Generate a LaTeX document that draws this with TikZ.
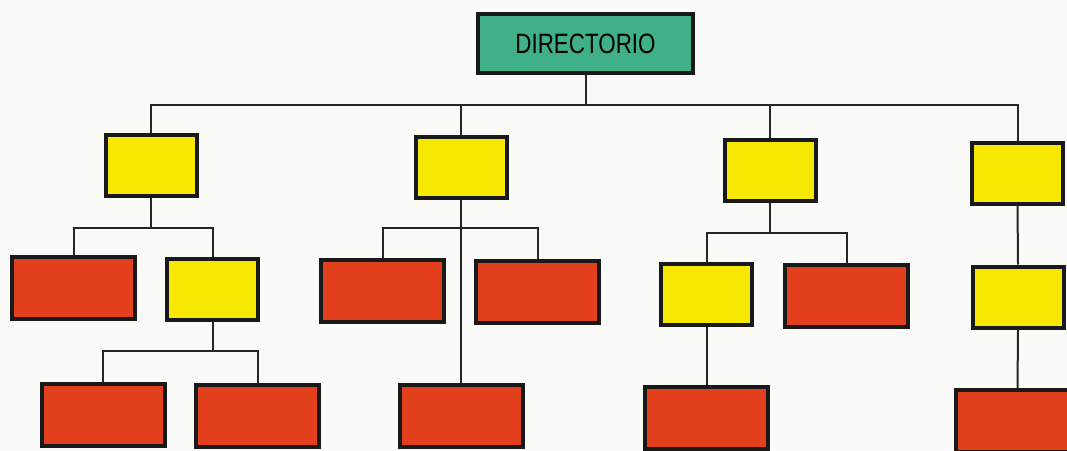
\documentclass[tikz,border=0pt]{standalone}
\usepackage{fontspec}
\newfontfamily\dirfont{Liberation Sans}[FakeStretch=0.8]
\usetikzlibrary{calc}
\definecolor{paper}{RGB}{250,250,248}
\definecolor{dirgreen}{RGB}{64,176,136}
\definecolor{jefeyellow}{RGB}{246,232,0}
\definecolor{unidadred}{RGB}{226,64,28}
\begin{document}
\begin{tikzpicture}[x=1pt,y=-1pt,
    box/.style={draw=black!90, line width=4pt, inner sep=0pt},
    jefe/.style={box, fill=jefeyellow, minimum width=91pt, minimum height=61pt},
    unidad/.style={box, fill=unidadred, minimum width=123pt, minimum height=62pt},
    link/.style={line width=2pt, black!85}]
\useasboundingbox (0,0) rectangle (1067,450);
\fill[paper] (0,0) rectangle (1067,450);

% top
\node[box, fill=dirgreen, minimum width=215pt, minimum height=59pt,
      font=\dirfont\fontsize{28}{30}\selectfont] (dir) at (585.5,43.5) {DIRECTORIO};

% first level
\node[jefe] (j1) at (151,165)    {};
\node[jefe] (j2) at (461,167.5)  {};
\node[jefe] (j3) at (770,170.5)  {};
\node[jefe] (j4) at (1017.5,173) {};

% second level
\node[unidad] (r1) at (73.5,288)   {};
\node[jefe]   (y1) at (212.5,289.5) {};
\node[unidad] (r2) at (382.5,290.5) {};
\node[unidad] (r3) at (537.5,292)   {};
\node[jefe]   (y2) at (706.5,294.5) {};
\node[unidad] (r4) at (846.5,295.5) {};
\node[jefe]   (y3) at (1018,297)    {};

% third level
\node[unidad] (r5) at (103,415)   {};
\node[unidad] (r6) at (257.5,415.5) {};
\node[unidad] (r7) at (461,415.5) {};
\node[unidad] (r8) at (706.5,418) {};
\node[unidad] (r9) at (1017.5,421) {};

% connectors
\draw[link] (dir.south) -- ++(0,30) coordinate (bus);
\draw[link] (j1.north) |- (bus) -| (j4.north);
\draw[link] (j2.north) -- (j2.north |- bus);
\draw[link] (j3.north) -- (j3.north |- bus);

\draw[link] (j1.south) -- ++(0,30) coordinate (b1);
\draw[link] (r1.north) |- (b1) -| (y1.north);

\draw[link] (j2.south) -- (r7.north);
\path (j2.south) ++(0,28) coordinate (b2);
\draw[link] (r2.north) |- (b2) -| (r3.north);

\draw[link] (j3.south) -- ++(0,30) coordinate (b3);
\draw[link] (y2.north) |- (b3) -| (r4.north);

\draw[link] (j4.south) -- (y3.north);

\draw[link] (y1.south) -- ++(0,29) coordinate (b4);
\draw[link] (r5.north) |- (b4) -| (r6.north);

\draw[link] (y2.south) -- (r8.north);
\draw[link] (y3.south) -- (r9.north);
\end{tikzpicture}
\end{document}
